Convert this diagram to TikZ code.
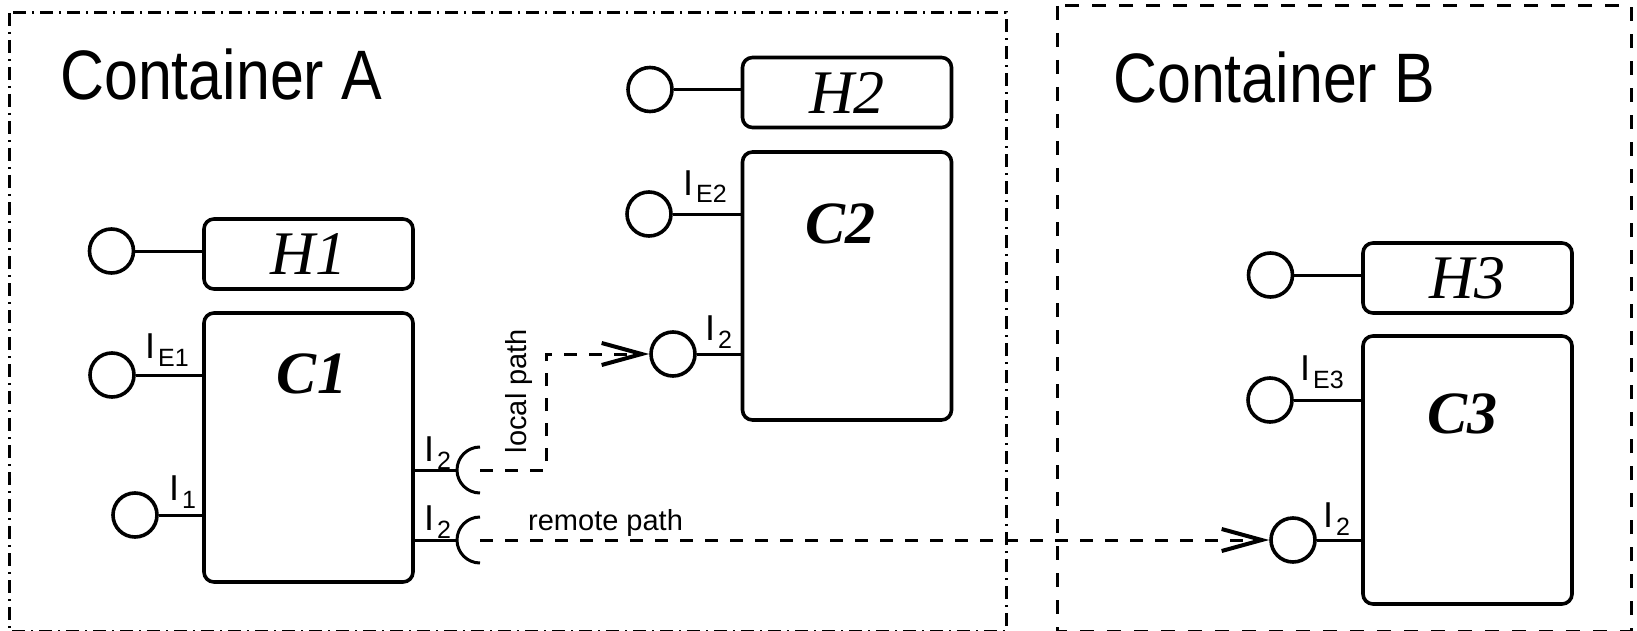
\documentclass[tikz,border=0pt]{standalone}
\usepackage{fontspec}
\setmainfont{Liberation Serif}
\setsansfont{Liberation Sans}
\usetikzlibrary{arrows.meta,positioning}
\tikzset{
  >={Straight Barb[length=40pt,width=22pt,line width=4pt]},
  wire/.style={line width=3pt},
  hbox/.style={draw,line width=3.6pt,rounded corners=10pt,minimum width=209pt,
    minimum height=70pt,inner sep=0pt,font=\fontsize{62}{62}\selectfont\itshape},
  cbox/.style={draw,line width=3.6pt,rounded corners=10pt,minimum width=209pt,
    minimum height=#1,inner sep=0pt},
  cbox/.default=269pt,
  ctext/.style={anchor=base,inner sep=0pt,font=\fontsize{60}{60}\selectfont\bfseries\itshape},
  port/.style={circle,draw,line width=3.6pt,minimum size=44pt,inner sep=0pt},
  plabel/.style={anchor=base west,inner sep=0pt,font=\sffamily\fontsize{36}{36}\selectfont},
  pathlabel/.style={inner sep=0pt,font=\sffamily\fontsize{29}{29}\selectfont},
  msg/.style={->,dash pattern=on 13pt off 12pt,line width=3pt},
  frameA/.style={line width=3pt,dash pattern=on 13pt off 6pt on 2pt off 6pt},
  frameB/.style={line width=3pt,dash pattern=on 14pt off 13pt},
  title/.style={anchor=base west,inner sep=0pt,font=\sffamily\fontsize{70}{70}\selectfont},
}
% interface label, I with a lowered index
\newcommand{\iface}[1]{I\kern3pt\raisebox{-8pt}{\fontsize{25}{25}\selectfont #1}}

\begin{document}
\begin{tikzpicture}[x=1pt,y=-1pt]
  \useasboundingbox (0,0) rectangle (1637,631);
  % containers
  \draw[frameA] (9,13) rectangle (1006,631);
  \draw[frameB] (1057,6) rectangle (1631,631);
  \node[title] (ta) at (60,100) {\scalebox{0.87}[1]{Container A}};
  \node[title] (tb) at (1113,103) {\scalebox{0.87}[1]{Container B}};

  % home interfaces
  \foreach \n/\x/\y in {1/308.5/254,2/847/92.5,3/1467.5/278}{
    \node[hbox] (h\n) at (\x,\y) {H\n};
    \node[port] (hp\n) at (\x-197,\y-3) {};
    \draw[wire] (hp\n) -- (hp\n -| h\n.west);
  }

  % components
  \node[cbox] (c1) at (308.5,447.5) {};
  \node[cbox=268pt] (c2) at (847,286) {};
  \node[cbox=268pt] (c3) at (1467.5,470) {};
  \node[ctext] (t1) at (312,393) {C1};
  \node[ctext] (t2) at (840,243) {C2};
  \node[ctext] (t3) at (1462,433) {C3};

  % provided interfaces
  \node[port] (ie1) at (112,375) {};
  \node[port] (i1) at (135,515) {};
  \node[port] (ie2) at (649,214) {};
  \node[port] (i2b) at (673,354) {};
  \node[port] (ie3) at (1270,400) {};
  \node[port] (i2c) at (1293,540) {};
  \draw[wire] (ie1) -- (ie1 -| c1.west);
  \draw[wire] (i1) -- (i1 -| c1.west);
  \draw[wire] (ie2) -- (ie2 -| c2.west);
  \draw[wire] (i2b) -- (i2b -| c2.west);
  \draw[wire] (ie3) -- (ie3 -| c3.west);
  \draw[wire] (i2c) -- (i2c -| c3.west);

  % required interfaces of C1
  \coordinate (s1a) at (480,470);
  \coordinate (s1b) at (480,540);
  \foreach \s in {s1a,s1b}{
    \draw[wire] (c1.east |- \s) -- ([xshift=-23pt]\s);
    \draw[wire] (\s) ++(0,-23) arc (-90:-270:23);
  }

  \node[plabel] (le1) at (145,358) {\iface{E1}};
  \node[plabel] (l1) at (169,500) {\iface{1}};
  \node[plabel] (l2a) at (424,461) {\iface{2}};
  \node[plabel] (l2b) at (424,530) {\iface{2}};
  \node[plabel] (le2) at (683,195) {\iface{E2}};
  \node[plabel] (l2c) at (705,340) {\iface{2}};
  \node[plabel] (le3) at (1300,380) {\iface{E3}};
  \node[plabel] (l2d) at (1323,527) {\iface{2}};

  % paths
  \draw[msg] (s1a) -- ++(66,0) |- (i2b);
  \draw[msg] (s1b) -- (i2c);
  \node[pathlabel,rotate=90] (lp) at (519,391) {local path};
  \node[pathlabel,anchor=base west] (rp) at (528,530) {remote path};
\end{tikzpicture}
\end{document}
